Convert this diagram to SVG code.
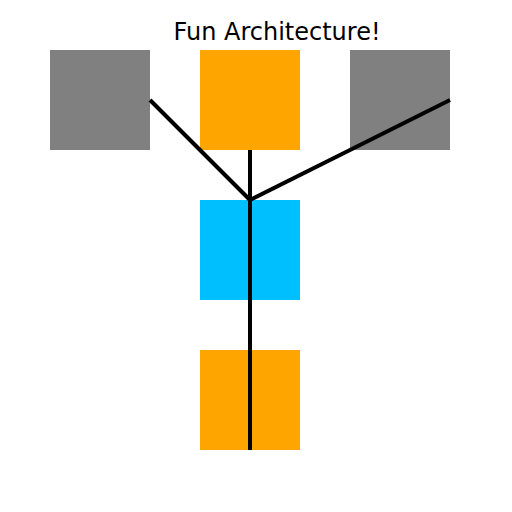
<svg xmlns="http://www.w3.org/2000/svg" width="512" height="512" viewBox="0 0 512 512">
<style>
.gray{fill:#808080}
.orange{fill:#ffa500}
.blue{fill:#00bfff}
.edge{stroke:#000;stroke-width:4;fill:none}
.title{font-family:"DejaVu Sans",sans-serif;font-size:24px;fill:#000}
</style>
<rect width="512" height="512" fill="#fff"/>
<text class="title" x="277" y="40" text-anchor="middle">Fun Architecture!</text>
<g id="node-left"><rect class="gray" x="50" y="50" width="100" height="100"/></g>
<g id="node-top"><rect class="orange" x="200" y="50" width="100" height="100"/></g>
<g id="node-right"><rect class="gray" x="350" y="50" width="100" height="100"/></g>
<g id="node-middle"><rect class="blue" x="200" y="200" width="100" height="100"/></g>
<g id="node-bottom"><rect class="orange" x="200" y="350" width="100" height="100"/></g>
<g id="connectors">
<line class="edge" x1="150" y1="100" x2="250" y2="200"/>
<line class="edge" x1="250" y1="150" x2="250" y2="200"/>
<line class="edge" x1="450" y1="100" x2="250" y2="200"/>
<line class="edge" x1="250" y1="200" x2="250" y2="450"/>
</g>
</svg>
